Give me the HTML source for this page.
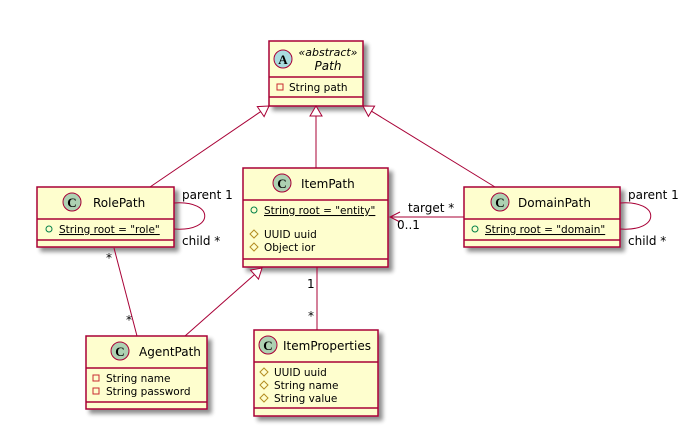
<!DOCTYPE html>
<html><head><meta charset="utf-8"><style>
html,body{margin:0;padding:0;background:#fff;}
svg{display:block;font-family:"DejaVu Sans","Liberation Sans",sans-serif;}
</style></head><body>
<svg width="692" height="426" viewBox="0 0 692 426" xmlns="http://www.w3.org/2000/svg">
<defs>
<filter id="sh" x="-10%" y="-10%" width="130%" height="130%"><feGaussianBlur in="SourceAlpha" stdDeviation="2"/><feOffset dx="4" dy="4"/><feComponentTransfer><feFuncA type="linear" slope="0.45"/></feComponentTransfer><feMerge><feMergeNode/><feMergeNode in="SourceGraphic"/></feMerge></filter>
</defs>
<g fill="#FEFECE" stroke="#A80036" stroke-width="1.5">
<rect x="269" y="41" width="94" height="65" filter="url(#sh)"/>
<rect x="37" y="187" width="137" height="60" filter="url(#sh)"/>
<rect x="243" y="168" width="145" height="99" filter="url(#sh)"/>
<rect x="464" y="187" width="156" height="60" filter="url(#sh)"/>
<rect x="86" y="336" width="121" height="73" filter="url(#sh)"/>
<rect x="254" y="330" width="124" height="86" filter="url(#sh)"/>
</g>
<g stroke="#A80036" stroke-width="1.5">
<line x1="269" y1="77" x2="363" y2="77"/><line x1="269" y1="97" x2="363" y2="97"/>
<line x1="37" y1="219" x2="174" y2="219"/><line x1="37" y1="240" x2="174" y2="240"/>
<line x1="243" y1="200" x2="388" y2="200"/><line x1="243" y1="259" x2="388" y2="259"/>
<line x1="464" y1="219" x2="620" y2="219"/><line x1="464" y1="240" x2="620" y2="240"/>
<line x1="86" y1="368" x2="207" y2="368"/><line x1="86" y1="402" x2="207" y2="402"/>
<line x1="254" y1="362" x2="378" y2="362"/><line x1="254" y1="408" x2="378" y2="408"/>
</g>
<!-- connectors -->
<g stroke="#A80036" stroke-width="1" fill="none">
<line x1="260.7" y1="111.6" x2="150" y2="187"/>
<line x1="316" y1="116" x2="316" y2="168"/>
<line x1="371.5" y1="111.2" x2="495" y2="187"/>
<line x1="254.5" y1="274.6" x2="185" y2="336"/>
<line x1="114" y1="248" x2="137" y2="336"/>
<line x1="317" y1="267" x2="317" y2="330"/>
<line x1="390" y1="217" x2="464" y2="217"/>
<polyline points="400,212 390,217 400,222"/>
<path d="M174,203 C215,200 215,232 174,229"/>
<path d="M620,203 C661,200 661,232 620,229"/>
</g>
<g stroke="#A80036" stroke-width="1" fill="#fff">
<polygon points="269,106 257.3,106.6 264.1,116.6"/>
<polygon points="316,106 310,116 322,116"/>
<polygon points="363,106 374.6,106.1 368.4,116.3"/>
<polygon points="262,268 258.5,279.1 250.5,270.1"/>
</g>
<!-- circles -->
<g stroke="#A80036" stroke-width="1">
<circle cx="283" cy="59" r="9" fill="#A9DCDF"/>
<circle cx="72" cy="202" r="9" fill="#ADD1B2"/>
<circle cx="282" cy="183" r="9" fill="#ADD1B2"/>
<circle cx="500" cy="202" r="9" fill="#ADD1B2"/>
<circle cx="120" cy="351" r="9" fill="#ADD1B2"/>
<circle cx="268" cy="345" r="9" fill="#ADD1B2"/>
</g>
<g font-family="Liberation Serif,serif" font-weight="bold" font-size="13" text-anchor="middle" fill="#000">
<text x="283" y="64">A</text>
<text x="72" y="207">C</text>
<text x="282" y="188">C</text>
<text x="500" y="207">C</text>
<text x="120" y="356">C</text>
<text x="268" y="350">C</text>
</g>
<g font-size="12" fill="#000">
<text x="328" y="56" text-anchor="middle" font-style="italic" font-size="11">«abstract»</text>
<text x="328" y="70" text-anchor="middle" font-style="italic">Path</text>
<text x="93" y="207">RolePath</text>
<text x="301" y="188">ItemPath</text>
<text x="518" y="207">DomainPath</text>
<text x="139" y="356">AgentPath</text>
<text x="283" y="350">ItemProperties</text>
</g>
<g font-size="10.5" fill="#000">
<text x="289" y="91">String path</text>
<text x="59" y="233" text-decoration="underline">String root = "role"</text>
<text x="264" y="214" text-decoration="underline">String root = "entity"</text>
<text x="264" y="238">UUID uuid</text>
<text x="264" y="251">Object ior</text>
<text x="485" y="233" text-decoration="underline">String root = "domain"</text>
<text x="106" y="382">String name</text>
<text x="106" y="395">String password</text>
<text x="274" y="376">UUID uuid</text>
<text x="274" y="389">String name</text>
<text x="274" y="402">String value</text>
</g>
<!-- visibility markers -->
<g fill="none" stroke-width="1">
<rect x="277" y="84" width="6" height="6" stroke="#C82930"/>
<rect x="93" y="375" width="6" height="6" stroke="#C82930"/>
<rect x="93" y="388" width="6" height="6" stroke="#C82930"/>
<circle cx="49" cy="229" r="3" stroke="#038048"/>
<circle cx="254" cy="210" r="3" stroke="#038048"/>
<circle cx="475" cy="229" r="3" stroke="#038048"/>
<g stroke="#B38D22">
<polygon points="254,230 258,234 254,238 250,234"/>
<polygon points="254,243 258,247 254,251 250,247"/>
<polygon points="264,368 268,372 264,376 260,372"/>
<polygon points="264,381 268,385 264,389 260,385"/>
<polygon points="264,394 268,398 264,402 260,398"/>
</g>
</g>
<g font-size="12" fill="#000">
<text x="182" y="199">parent 1</text>
<text x="182" y="245">child *</text>
<text x="628" y="199">parent 1</text>
<text x="628" y="245">child *</text>
<text x="408" y="212">target *</text>
<text x="397" y="229">0..1</text>
<text x="106" y="262">*</text>
<text x="126" y="324">*</text>
<text x="307" y="288">1</text>
<text x="308" y="320">*</text>
</g>
</svg>
</body></html>
